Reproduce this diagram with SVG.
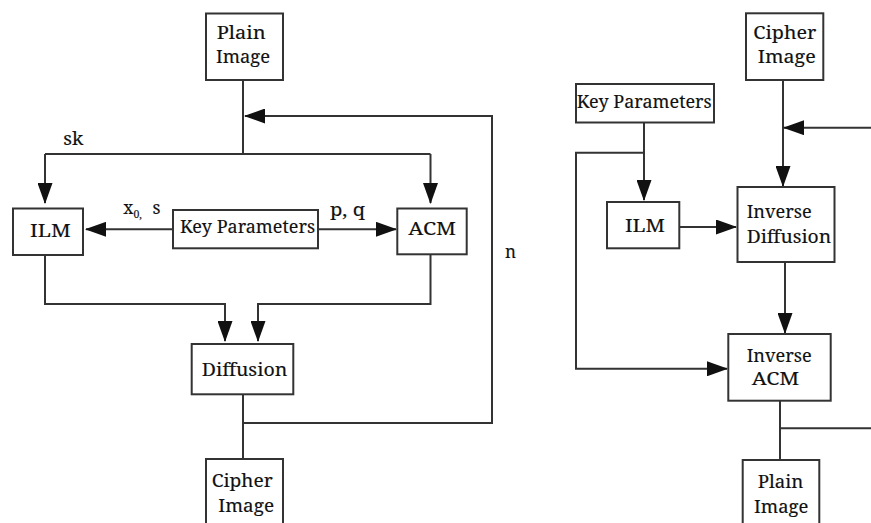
<svg xmlns="http://www.w3.org/2000/svg" width="871" height="523" viewBox="0 0 871 523" font-family="'Noto Serif', 'DejaVu Serif', 'Liberation Serif', serif">
  <style>
    .box { fill: #ffffff; stroke: #333333; stroke-width: 2; }
    .wire { fill: none; stroke: #333333; stroke-width: 2; }
    .arrow { marker-end: url(#head); }
    text { font-size: 17.6px; fill: #111111; stroke: #111111; stroke-width: 0.15; }
  </style>
  <defs>
    <marker id="head" markerUnits="userSpaceOnUse" markerWidth="21" markerHeight="15" viewBox="0 0 21 15" refX="20" refY="7.5" orient="auto">
      <path d="M0,0 L21,7.5 L0,15 z" fill="#111111"/>
    </marker>
  </defs>

  <rect width="871" height="523" fill="#ffffff"/>

  <!-- connectors -->
  <g id="connectors">
    <!-- encryption side -->
    <path class="wire" d="M243,80 V154"/>
    <path class="wire" d="M45,154 H430.5"/>
    <path class="wire arrow" d="M45,154 V203"/>
    <path class="wire arrow" d="M430.5,154 V203"/>
    <path class="wire arrow" d="M173,229.3 H86"/>
    <path class="wire arrow" d="M318,229.3 H396"/>
    <path class="wire arrow" d="M45,255 V304 H225 V341"/>
    <path class="wire arrow" d="M430.5,254 V304 H258 V341"/>
    <path class="wire" d="M243,394 V459"/>
    <path class="wire arrow" d="M243,423 H492 V116 H245"/>
    <!-- decryption side -->
    <path class="wire arrow" d="M783,80 V186"/>
    <path class="wire arrow" d="M872,127.7 H784"/>
    <path class="wire arrow" d="M644,122.5 V200"/>
    <path class="wire arrow" d="M644,152.7 H576 V368.8 H727"/>
    <path class="wire arrow" d="M679,227 H736"/>
    <path class="wire arrow" d="M785,262 V333"/>
    <path class="wire" d="M780,400.5 V460"/>
    <path class="wire" d="M780,428.3 H872"/>
  </g>

  <!-- edge labels -->
  <g id="labels">
    <text x="63.3" y="145" textLength="20" lengthAdjust="spacingAndGlyphs">sk</text>
    <text x="123.3" y="214">x<tspan font-size="10.5" dy="4">0,</tspan></text>
    <text x="152.5" y="214">s</text>
    <text x="330" y="216" textLength="35" lengthAdjust="spacingAndGlyphs">p, q</text>
    <text x="505" y="258" textLength="11" lengthAdjust="spacingAndGlyphs">n</text>
  </g>

  <!-- encryption nodes -->
  <g id="enc-plain">
    <rect class="box" x="206" y="13.5" width="77" height="66.5"/>
    <text x="216.7" y="39" textLength="49" lengthAdjust="spacingAndGlyphs">Plain</text>
    <text x="216" y="63.3" textLength="54" lengthAdjust="spacingAndGlyphs">Image</text>
  </g>
  <g id="enc-ilm">
    <rect class="box" x="13" y="208.5" width="70" height="46.5"/>
    <text x="30" y="236.5" textLength="40.7" lengthAdjust="spacingAndGlyphs">ILM</text>
  </g>
  <g id="enc-key">
    <rect class="box" x="173" y="210" width="145" height="38.3"/>
    <text x="180" y="233.3" textLength="135" lengthAdjust="spacingAndGlyphs">Key Parameters</text>
  </g>
  <g id="enc-acm">
    <rect class="box" x="397.3" y="208.5" width="69.4" height="45.8"/>
    <text x="408.3" y="235" textLength="47.7" lengthAdjust="spacingAndGlyphs">ACM</text>
  </g>
  <g id="enc-diffusion">
    <rect class="box" x="191.7" y="344" width="101.6" height="50.3"/>
    <text x="201.7" y="375.7" textLength="85.6" lengthAdjust="spacingAndGlyphs">Diffusion</text>
  </g>
  <g id="enc-cipher">
    <rect class="box" x="206" y="459" width="77" height="80"/>
    <text x="211.7" y="486.7" textLength="61" lengthAdjust="spacingAndGlyphs">Cipher</text>
    <text x="218.3" y="511.7" textLength="55.7" lengthAdjust="spacingAndGlyphs">Image</text>
  </g>

  <!-- decryption nodes -->
  <g id="dec-cipher">
    <rect class="box" x="746" y="13.3" width="77.3" height="66.7"/>
    <text x="753.3" y="39" textLength="63" lengthAdjust="spacingAndGlyphs">Cipher</text>
    <text x="757.7" y="63.3" textLength="58" lengthAdjust="spacingAndGlyphs">Image</text>
  </g>
  <g id="dec-key">
    <rect class="box" x="576" y="84" width="138" height="38.5"/>
    <text x="576.7" y="108.3" textLength="135" lengthAdjust="spacingAndGlyphs">Key Parameters</text>
  </g>
  <g id="dec-ilm">
    <rect class="box" x="607" y="202" width="72.3" height="46.3"/>
    <text x="625" y="231.7" textLength="40" lengthAdjust="spacingAndGlyphs">ILM</text>
  </g>
  <g id="dec-inv-diffusion">
    <rect class="box" x="737.5" y="187" width="97" height="75"/>
    <text x="746.7" y="218.3" textLength="65" lengthAdjust="spacingAndGlyphs">Inverse</text>
    <text x="746.7" y="243.3" textLength="84.5" lengthAdjust="spacingAndGlyphs">Diffusion</text>
  </g>
  <g id="dec-inv-acm">
    <rect class="box" x="728.3" y="334" width="102.4" height="66.7"/>
    <text x="746.7" y="361.7" textLength="65" lengthAdjust="spacingAndGlyphs">Inverse</text>
    <text x="751.7" y="385" textLength="47.6" lengthAdjust="spacingAndGlyphs">ACM</text>
  </g>
  <g id="dec-plain">
    <rect class="box" x="742.7" y="460" width="76.6" height="80"/>
    <text x="757.7" y="488.3" textLength="45.6" lengthAdjust="spacingAndGlyphs">Plain</text>
    <text x="754" y="513.3" textLength="54.3" lengthAdjust="spacingAndGlyphs">Image</text>
  </g>
</svg>
